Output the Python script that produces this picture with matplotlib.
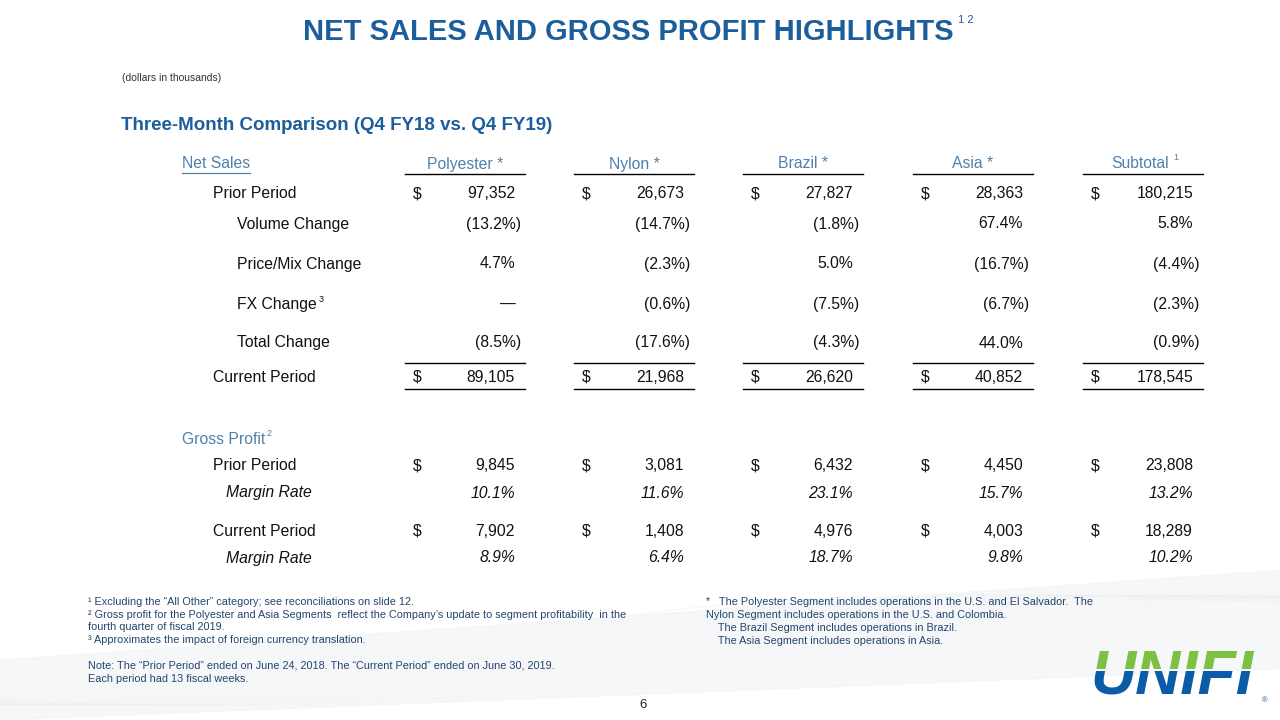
import matplotlib
matplotlib.use("Agg")
import matplotlib.pyplot as plt
import numpy as np
from matplotlib.patches import Rectangle

# ---------------- data ----------------
segments = ["Polyester *", "Nylon *", "Brazil *", "Asia *", "Subtotal"]
prior_period = [97352, 26673, 27827, 28363, 180215]
volume_change = [-13.2, -14.7, -1.8, 67.4, 5.8]
price_mix_change = [4.7, -2.3, 5.0, -16.7, -4.4]
fx_change = [None, -0.6, -7.5, -6.7, -2.3]
total_change = [-8.5, -17.6, -4.3, 44.0, -0.9]
current_period = [89105, 21968, 26620, 40852, 178545]

gp_prior = [9845, 3081, 6432, 4450, 23808]
margin_prior = [10.1, 11.6, 23.1, 15.7, 13.2]
gp_current = [7902, 1408, 4976, 4003, 18289]
margin_current = [8.9, 6.4, 18.7, 9.8, 10.2]

title = "NET SALES AND GROSS PROFIT HIGHLIGHTS"
subtitle = "Three-Month Comparison (Q4 FY18 vs. Q4 FY19)"
units = "(dollars in thousands)"
footnotes_left = [
    "\u00b9 Excluding the \u201cAll Other\u201d category; see reconciliations on slide 12.",
    "\u00b2 Gross profit for the Polyester and Asia Segments  reflect the Company\u2019s update to segment profitability  in the",
    "fourth quarter of fiscal 2019.",
    "\u00b3 Approximates the impact of foreign currency translation.",
]
notes_left = [
    "Note: The \u201cPrior Period\u201d ended on June 24, 2018. The \u201cCurrent Period\u201d ended on June 30, 2019.",
    "Each period had 13 fiscal weeks.",
]
footnotes_right = [
    "*   The Polyester Segment includes operations in the U.S. and El Salvador.  The",
    "Nylon Segment includes operations in the U.S. and Colombia.",
    "    The Brazil Segment includes operations in Brazil.",
    "    The Asia Segment includes operations in Asia.",
]

# ---------------- style ----------------
FONT = "Liberation Sans"
plt.rcParams["font.family"] = [FONT, "DejaVu Sans"]
TITLE_C = "#1B5E9B"
HEAD_C = "#4F81AC"
TEXT_C = "#111111"
NOTE_C = "#22456E"

fig = plt.figure(figsize=(12.8, 7.2), dpi=100)
ax = fig.add_axes([0, 0, 1, 1])
ax.set_xlim(0, 1280)
ax.set_ylim(720, 0)
ax.axis("off")

# faint background swoosh (decoration)
xs = np.linspace(0, 1280, 200)
for k in range(12):
    y1 = 700 - 0.06 * xs + 25 * np.sin(xs / 260 + k * 0.15) - k * 2.5
    ax.plot(xs, y1, color="#d8dde2", lw=0.7, alpha=0.25, zorder=0)
ax.fill_between(xs, 720 - 0.04 * xs, 660 - 0.07 * xs, color="#f1f3f5", alpha=0.6, zorder=0)

# title
ax.text(628, 32, title, ha="center", va="center", fontsize=21, fontweight="bold", color=TITLE_C)
ax.text(958, 20, "1 2", ha="left", va="center", fontsize=8, color=TITLE_C)
ax.text(122, 78, units, ha="left", va="center", fontsize=7.5, color="#333333")
ax.text(121, 125, subtitle, ha="left", va="center", fontsize=13.5, fontweight="bold", color=TITLE_C)

FS = 11.3
col_left = [405, 574, 743, 913, 1083]
col_w = 120

# headers
ax.text(182, 164, "Net Sales", ha="left", va="center", fontsize=FS, color=HEAD_C)
ax.plot([182, 250], [173, 173], color=HEAD_C, lw=0.9)
for i, seg in enumerate(segments):
    cx = col_left[i] + col_w / 2
    if seg == "Subtotal":
        ax.text(cx - 3, 164, seg, ha="center", va="center", fontsize=FS, color=HEAD_C)
        ax.text(cx + 30, 158, "1", ha="left", va="center", fontsize=6.5, color=HEAD_C)
    else:
        ax.text(cx, 164, seg, ha="center", va="center", fontsize=FS, color=HEAD_C)
    ax.plot([col_left[i], col_left[i] + col_w], [174, 174], color="black", lw=1.0)


def fmt_pct(v):
    if v is None:
        return "\u2014", 0
    if v < 0:
        return "(%.1f%%)" % abs(v), 1
    return "%.1f%%" % v, 0


def draw_dollar_row(y, vals):
    for i, v in enumerate(vals):
        L = col_left[i]
        ax.text(L + 8, y, "$", ha="left", va="center", fontsize=FS, color=TEXT_C)
        ax.text(L + col_w - 10, y, f"{v:,}", ha="right", va="center", fontsize=FS, color=TEXT_C)


def draw_pct_row(y, vals, italic=False):
    for i, v in enumerate(vals):
        L = col_left[i]
        s, neg = fmt_pct(v)
        xr = L + col_w - (4 if neg else 10)
        if v is None:
            ax.text(L + col_w - 17, y, s, ha="center", va="center", fontsize=FS, color=TEXT_C)
        else:
            ax.text(xr, y, s, ha="right", va="center", fontsize=FS, color=TEXT_C,
                    style="italic" if italic else "normal")


# net sales block
ax.text(213, 194, "Prior Period", ha="left", va="center", fontsize=FS, color=TEXT_C)
draw_dollar_row(194, prior_period)
ax.text(237, 224, "Volume Change", ha="left", va="center", fontsize=FS, color=TEXT_C)
draw_pct_row(224, volume_change)
ax.text(237, 264, "Price/Mix Change", ha="left", va="center", fontsize=FS, color=TEXT_C)
draw_pct_row(264, price_mix_change)
ax.text(237, 304, "FX Change", ha="left", va="center", fontsize=FS, color=TEXT_C)
ax.text(319, 299, "3", ha="left", va="center", fontsize=6.5, color=TEXT_C)
draw_pct_row(304, fx_change)
ax.text(237, 343, "Total Change", ha="left", va="center", fontsize=FS, color=TEXT_C)
draw_pct_row(343, total_change)
for L in col_left:
    ax.plot([L, L + col_w], [363, 363], color="black", lw=1.0)
ax.text(213, 377, "Current Period", ha="left", va="center", fontsize=FS, color=TEXT_C)
draw_dollar_row(377, current_period)
for L in col_left:
    ax.plot([L, L + col_w], [389, 389], color="black", lw=1.0)

# gross profit block
ax.text(182, 440, "Gross Profit", ha="left", va="center", fontsize=FS, color=HEAD_C)
ax.text(267, 434, "2", ha="left", va="center", fontsize=6.5, color=HEAD_C)
ax.text(213, 466, "Prior Period", ha="left", va="center", fontsize=FS, color=TEXT_C)
draw_dollar_row(466, gp_prior)
ax.text(226, 493, "Margin Rate", ha="left", va="center", fontsize=FS, color=TEXT_C, style="italic")
draw_pct_row(493, margin_prior, italic=True)
ax.text(213, 531, "Current Period", ha="left", va="center", fontsize=FS, color=TEXT_C)
draw_dollar_row(531, gp_current)
ax.text(226, 558, "Margin Rate", ha="left", va="center", fontsize=FS, color=TEXT_C, style="italic")
draw_pct_row(558, margin_current, italic=True)

# footnotes
NFS = 7.8
for j, line in enumerate(footnotes_left):
    ax.text(88, 602 + j * 12.7, line, ha="left", va="center", fontsize=NFS, color=NOTE_C)
for j, line in enumerate(notes_left):
    ax.text(88, 665 + j * 13.5, line, ha="left", va="center", fontsize=NFS, color=NOTE_C)
for j, line in enumerate(footnotes_right):
    ax.text(706, 602 + j * 13, line, ha="left", va="center", fontsize=NFS, color=NOTE_C)

ax.text(643, 705, "6", ha="center", va="center", fontsize=9.5, color="#222222")

# logo: blue lower part, green upper part (clipped copies of the same word)
LX, LY, LFS = 1172, 677, 45
logo_blue = ax.text(LX, LY, "UNIFI", ha="center", va="center", fontsize=LFS, fontweight="bold",
                    style="italic", color="#0B5CA8", zorder=3, clip_on=True)
logo_blue.set_clip_path(Rectangle((1080, 671), 200, 49, transform=ax.transData))
logo_green = ax.text(LX, LY, "UNIFI", ha="center", va="center", fontsize=LFS, fontweight="bold",
                     style="italic", color="#7DC143", zorder=4, clip_on=True)
logo_green.set_clip_path(Rectangle((1080, 630), 200, 38.5, transform=ax.transData))
ax.text(1265, 701, "\u00ae", ha="center", va="center", fontsize=5.5, color="#0B5CA8")

fig.savefig("out.png", dpi=100)
